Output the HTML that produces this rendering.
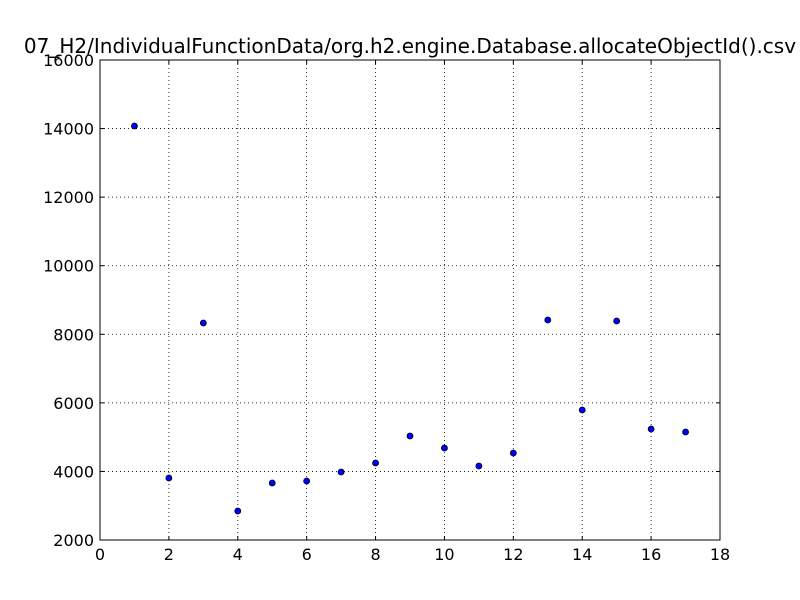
<!DOCTYPE html>
<html><head><meta charset="utf-8"><style>
body{margin:0;background:#fff;}
svg{display:block;font-family:"DejaVu Sans","Liberation Sans",sans-serif;}
</style></head><body>
<svg id="chart" width="800" height="600">
<rect width="800" height="600" fill="#fff"/>
<text x="410" y="53" font-size="20" text-anchor="middle">07_H2/IndividualFunctionData/org.h2.engine.Database.allocateObjectId().csv</text>
<g id="grid"></g><g id="ticks"></g><g id="pts"></g>
<rect x="100" y="60" width="620" height="480" fill="none" stroke="#000" stroke-width="1"/>
</svg>
<script>
const xs=[1,2,3,4,5,6,7,8,9,10,11,12,13,14,15,16,17];
const ys=[14075,3808,8329,2846,3662,3721,3983,4246,5033,4683,4158,4538,8417,5792,8387,5237,5150];
const xTicks=[0,2,4,6,8,10,12,14,16,18];
const yTicks=[2000,4000,6000,8000,10000,12000,14000,16000];
const L=100,R=720,T=60,B=540,X0=0,X1=18,Y0=2000,Y1=16000;
const sx=v=>L+(v-X0)/(X1-X0)*(R-L);
const sy=v=>B-(v-Y0)/(Y1-Y0)*(B-T);
const NS="http://www.w3.org/2000/svg";
function mk(t,a,p){const e=document.createElementNS(NS,t);for(const k in a)e.setAttribute(k,a[k]);p.appendChild(e);return e;}
const g=document.getElementById('grid'),tk=document.getElementById('ticks'),pg=document.getElementById('pts');
xTicks.forEach(v=>{const x=sx(v);
 const l=mk('line',{x1:x,x2:x,y1:T,y2:B,stroke:'#000','stroke-dasharray':'1,3','stroke-width':0.8},g);
 
 
 mk('line',{x1:x,x2:x,y1:B,y2:B-4,stroke:'#000'},tk);
 mk('line',{x1:x,x2:x,y1:T,y2:T+4,stroke:'#000'},tk);
 const t=mk('text',{x:x,y:B+20,'font-size':16,'text-anchor':'middle'},tk);t.textContent=v;
 
 
});
yTicks.forEach(v=>{const y=sy(v);
 const l=mk('line',{x1:L,x2:R,y1:y,y2:y,stroke:'#000','stroke-dasharray':'1,3','stroke-width':0.8},g);
 
 
 mk('line',{x1:L,x2:L+4,y1:y,y2:y,stroke:'#000'},tk);
 mk('line',{x1:R,x2:R-4,y1:y,y2:y,stroke:'#000'},tk);
 const t=mk('text',{x:L-6,y:y+6,'font-size':16,'text-anchor':'end'},tk);t.textContent=v;
 
 
});
xs.forEach((v,i)=>{
 const c=mk('circle',{cx:sx(v),cy:sy(ys[i]),r:3,fill:'#0000ff',stroke:'#000','stroke-width':0.8},pg);
 
 
});
</script>
</body></html>
